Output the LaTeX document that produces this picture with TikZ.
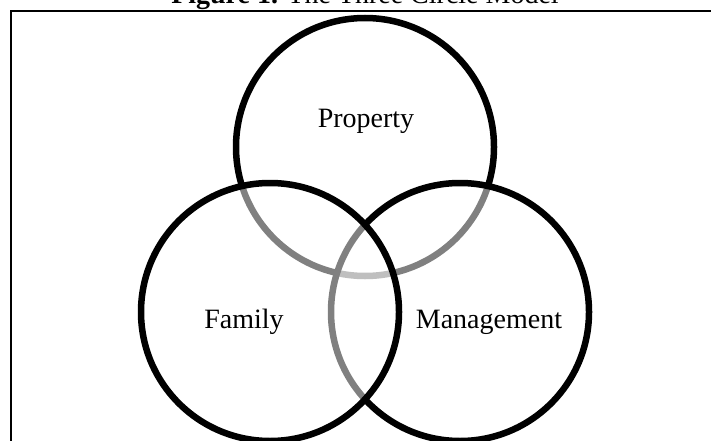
\documentclass[tikz,border=0pt]{standalone}
\usepackage{fontspec}
\setmainfont{Liberation Serif}
\begin{document}
\begin{tikzpicture}[x=1pt,y=-1pt,
  ring/.style={circle, draw=black, line width=6.5pt, fill=white, fill opacity=0.5, inner sep=0pt, minimum size=258pt},
  lab/.style={font=\fontsize{28}{32}\selectfont, anchor=base, inner sep=0pt}]
\useasboundingbox (0,0) rectangle (711,441);
\clip (0,0) rectangle (711,441);
\draw[line width=2pt] (11,11) rectangle (740,470);
\node[lab] (title) at (365,4) {\textbf{Figure 1.} The Three Circle Model};
\node[ring] (prop) at (365,147) {};
\node[ring] (mgmt) at (460,312) {};
\node[ring] (fam) at (270,312) {};
\node[lab] (propl) at (366,128) {Property};
\node[lab] (faml) at (244,328) {Family};
\node[lab] (mgmtl) at (489,328) {Management};
\end{tikzpicture}
\end{document}
